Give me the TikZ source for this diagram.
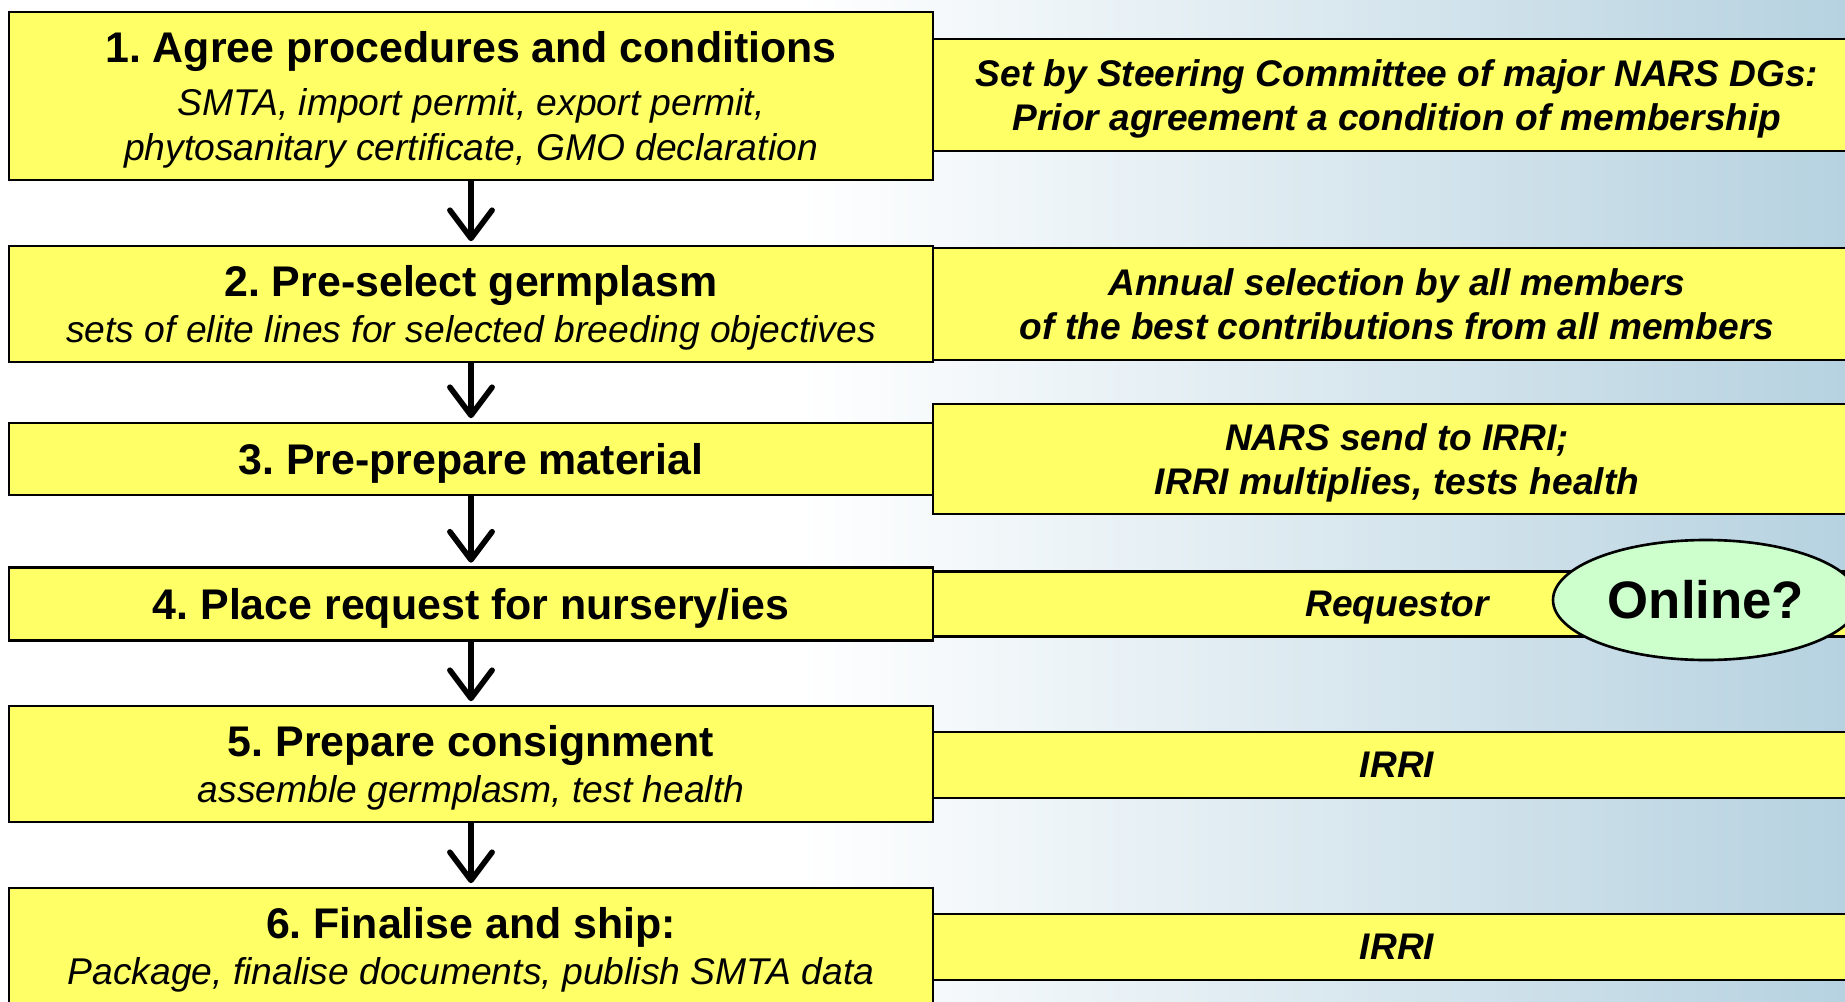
\documentclass[tikz,border=0pt]{standalone}
\usepackage{fontspec}
\setmainfont{Liberation Sans}
\usetikzlibrary{arrows.meta,shapes.geometric}
\definecolor{boxyellow}{RGB}{255,255,102}
\definecolor{onlinegreen}{RGB}{204,255,204}
\definecolor{bgblue}{RGB}{182,210,224}
\tikzset{
  stepbox/.style={draw, fill=boxyellow, line width=0.75pt, minimum width=9.24cm, inner sep=0pt,
    text depth=-1pt, align=center, font=\fontsize{10.6}{13}\selectfont},
  notebox/.style={draw, fill=boxyellow, line width=0.75pt, minimum width=9.28cm, inner sep=0pt,
    text depth=-1pt, align=center, font=\fontsize{10.55}{12.7}\selectfont\bfseries\itshape},
  flow/.style={line width=1.6pt, -{Straight Barb[length=8pt,width=12pt,round]}, shorten >=1pt}
}
\newcommand{\steptitle}[1]{{\fontsize{12.2}{15}\selectfont\bfseries #1}}
\newcommand{\stepsub}[1]{{\itshape #1}}
\frenchspacing

\begin{document}
\begin{tikzpicture}

  \clip (0, 0) rectangle (18.45, 10.01);
  \fill[white] (0, 0) rectangle (18.45, 10.01);
  \shade[left color=white, right color=bgblue] (8.0, 0) rectangle (18.45, 10.01);

  \node[notebox, minimum height=1.12cm] (r1) at (13.97, 9.06) {Set by Steering Committee of major NARS DGs:\\ Prior agreement a condition of membership};
  \node[notebox, minimum height=1.12cm] (r2) at (13.97, 6.97) {Annual selection by all members\\ of the best contributions from all members};
  \node[notebox, minimum height=1.10cm] (r3) at (13.97, 5.42) {NARS send to IRRI;\\ IRRI multiplies, tests health};
  \node[notebox, minimum height=0.65cm] (r4) at (13.97, 3.97) {Requestor};
  \node[notebox, minimum height=0.66cm] (r5) at (13.97, 2.36) {IRRI};
  \node[notebox, minimum height=0.66cm] (r6) at (13.97, 0.54) {IRRI};
  \node[ellipse, draw, fill=onlinegreen, line width=0.75pt, minimum width=3.06cm, minimum height=1.2cm,
    inner sep=0pt, font=\fontsize{15}{18}\selectfont\bfseries] (online) at (17.06, 4.01) {Online?};

  \node[stepbox, minimum height=1.68cm] (s1) at (4.71, 9.05) {\steptitle{1. Agree procedures and conditions}\\[2pt]
    \stepsub{SMTA, import permit, export permit,}\\ \stepsub{phytosanitary certificate, GMO declaration}};
  \node[stepbox, minimum height=1.16cm] (s2) at (4.71, 6.97) {\steptitle{2. Pre-select germplasm}\\
    \stepsub{sets of elite lines for selected breeding objectives}};
  \node[stepbox, minimum height=0.72cm] (s3) at (4.71, 5.42) {\steptitle{3. Pre-prepare material}};
  \node[stepbox, minimum height=0.73cm] (s4) at (4.71, 3.97) {\steptitle{4. Place request for nursery/ies}};
  \node[stepbox, minimum height=1.16cm] (s5) at (4.71, 2.37) {\steptitle{5. Prepare consignment}\\
    \stepsub{assemble germplasm, test health}};
  \node[stepbox, minimum height=1.16cm] (s6) at (4.71, 0.55) {\steptitle{6. Finalise and ship:}\\
    \stepsub{Package, finalise documents, publish SMTA data}};

  \draw[flow] (s1) -- (s2);
  \draw[flow] (s2) -- (s3);
  \draw[flow] (s3) -- (s4);
  \draw[flow] (s4) -- (s5);
  \draw[flow] (s5) -- (s6);

\end{tikzpicture}
\end{document}
